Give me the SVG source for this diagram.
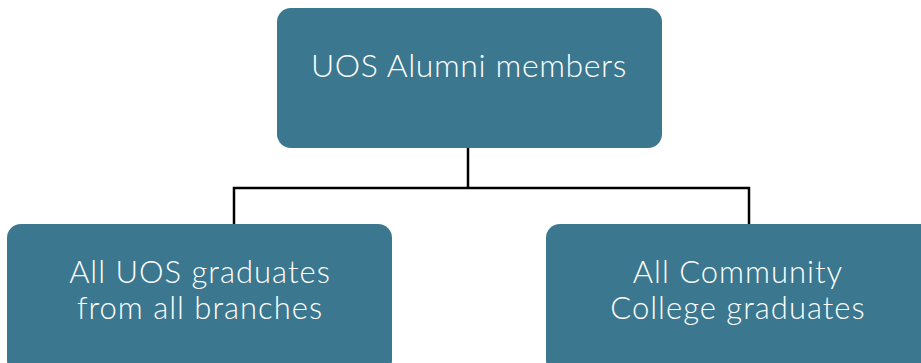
<svg xmlns="http://www.w3.org/2000/svg" width="921" height="363" viewBox="0 0 921 363">
<style>
.box{fill:#3b778f;}
.t{font-family:Lato,"Noto Sans","Liberation Sans",sans-serif;fill:#ffffff;text-anchor:middle;font-weight:300;}
.c{fill:none;stroke:#000000;stroke-width:2.5;}
</style>
<rect width="921" height="363" fill="#ffffff"/>
<g id="connectors">
<path class="c" d="M468,148 V188 M234,224 V188 H749 V224"/>
</g>
<g id="root">
<rect class="box" x="277" y="8" width="385" height="140" rx="14"/>
<text class="t" x="469" y="77" font-size="32" letter-spacing="0.6">UOS Alumni members</text>
</g>
<g id="uos-graduates">
<rect class="box" x="7" y="224" width="385" height="150" rx="14"/>
<text class="t" x="200" y="283" font-size="31" letter-spacing="1">All UOS graduates</text>
<text class="t" x="200" y="319" font-size="31" letter-spacing="1">from all branches</text>
</g>
<g id="cc-graduates">
<rect class="box" x="546" y="224" width="390" height="150" rx="14"/>
<text class="t" x="738" y="283" font-size="31" letter-spacing="1">All Community</text>
<text class="t" x="738" y="319" font-size="31" letter-spacing="1">College graduates</text>
</g>
</svg>
